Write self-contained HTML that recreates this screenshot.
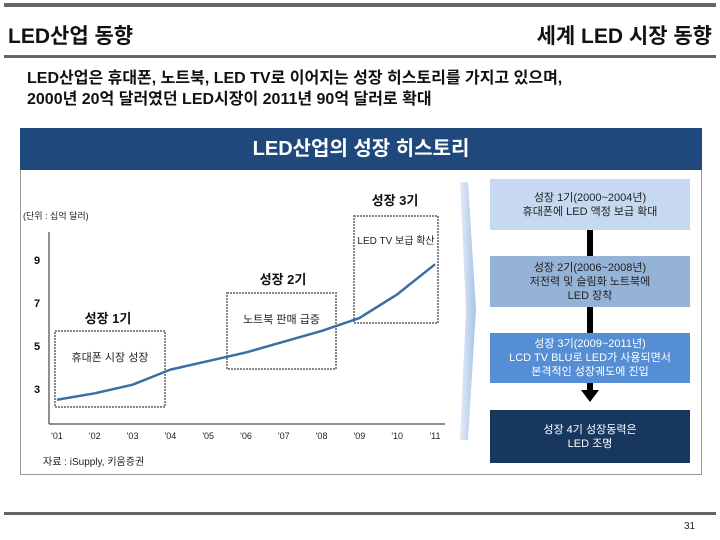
<!DOCTYPE html>
<html><head><meta charset="utf-8">
<style>
body{margin:0;width:720px;height:540px;background:#fff;position:relative;overflow:hidden;font-family:"Liberation Sans","Noto Sans CJK KR",sans-serif;}
.abs{position:absolute;}
.rbox{position:absolute;left:490px;width:200px;display:flex;align-items:center;justify-content:center;text-align:center;font-size:11px;line-height:14px;}
</style></head><body>
<div class="abs" style="left:4px;top:3px;width:712px;height:4px;background:#666"></div>
<div class="abs" style="left:8px;top:20px;font-size:21px;font-weight:bold;color:#111">LED산업 동향</div>
<div class="abs" style="right:8px;top:20px;font-size:21px;font-weight:bold;color:#111">세계 LED 시장 동향</div>
<div class="abs" style="left:4px;top:55px;width:712px;height:3px;background:#666"></div>
<div class="abs" style="left:27px;top:68px;font-size:16px;line-height:21px;font-weight:bold;color:#111">LED산업은 휴대폰, 노트북, LED TV로 이어지는 성장 히스토리를 가지고 있으며,<br>2000년 20억 달러였던 LED시장이 2011년 90억 달러로 확대</div>
<div class="abs" style="left:20px;top:128px;width:680px;height:346px;border:1px solid #999;border-top:none"></div>
<div class="abs" style="left:20px;top:128px;width:682px;height:42px;background:#1f497d;color:#fff;font-size:20px;font-weight:bold;text-align:center;line-height:42px">LED산업의 성장 히스토리</div>

<svg class="abs" style="left:0;top:0" width="720" height="540">
<defs><linearGradient id="chev" x1="0" x2="1"><stop offset="0" stop-color="#e4ecf6"/><stop offset="1" stop-color="#a7c3e6"/></linearGradient></defs>
<polygon points="460,182 468,182 476,310 468,440 460,440 466,310" fill="url(#chev)"/>
<g id="chart"></g>
</svg>

<div class="rbox" style="top:179px;height:51px;background:#c6d9f1;color:#222">성장 1기(2000~2004년)<br>휴대폰에 LED 액정 보급 확대</div>
<div class="abs" style="left:587px;top:230px;width:6px;height:26px;background:#000"></div>
<div class="rbox" style="top:256px;height:51px;background:#95b3d7;color:#222">성장 2기(2006~2008년)<br>저전력 및 슬림화 노트북에<br>LED 장착</div>
<div class="abs" style="left:587px;top:307px;width:6px;height:26px;background:#000"></div>
<div class="rbox" style="top:333px;height:50px;background:#558ed5;color:#fff">성장 3기(2009~2011년)<br>LCD TV BLU로 LED가 사용되면서<br>본격적인 성장궤도에 진입</div>
<div class="abs" style="left:587px;top:383px;width:6px;height:8px;background:#000"></div>
<div class="abs" style="left:581px;top:390px;width:0;height:0;border-left:9px solid transparent;border-right:9px solid transparent;border-top:12px solid #000"></div>
<div class="rbox" style="top:410px;height:53px;background:#17375e;color:#fff">성장 4기 성장동력은<br>LED 조명</div>

<div class="abs" style="left:43px;top:453px;font-size:10px;color:#222">자료 : iSupply, 키움증권</div>
<div class="abs" style="left:4px;top:512px;width:712px;height:3px;background:#666"></div>
<div class="abs" style="left:684px;top:521px;font-size:10px;color:#222">31</div>

<script>
const years=["'01","'02","'03","'04","'05","'06","'07","'08","'09","'10","'11"];
const values=[2.5,2.8,3.2,3.9,4.3,4.7,5.2,5.7,6.3,7.4,8.8];
const yTicks=[3,5,7,9];
const NS="http://www.w3.org/2000/svg";
const g=document.getElementById('chart');
const x0=57,dx=37.8;
function xs(i){return x0+i*dx;}
function ys(v){return 389-(v-3)*21.5;}
function mk(tag,attrs,txt){const e=document.createElementNS(NS,tag);for(const k in attrs)e.setAttribute(k,attrs[k]);if(txt!==undefined)e.textContent=txt;g.appendChild(e);return e;}
let e=mk('line',{x1:49,y1:232,x2:49,y2:424,stroke:'#222','stroke-width':1});


e=mk('line',{x1:49,y1:424,x2:445,y2:424,stroke:'#222','stroke-width':1});


yTicks.forEach(t=>{const el=mk('text',{x:37,y:ys(t)+4,'font-size':11,'font-weight':'bold','text-anchor':'middle',fill:'#111'},t);

});
years.forEach((y,i)=>{const el=mk('text',{x:xs(i),y:439,'font-size':9,'text-anchor':'middle',fill:'#222'},y);

});
e=mk('text',{x:23,y:219,'font-size':9,fill:'#222'},'(단위 : 십억 달러)');


const boxes=[[55,331,110,76,'휴대폰 시장 성장',108,323,'성장 1기'],[227,293,109,76,'노트북 판매 급증',283,284,'성장 2기'],[354,216,84,107,'LED TV 보급 확산',395,205,'성장 3기']];
boxes.forEach((b,i)=>{
 const r=mk('rect',{x:b[0],y:b[1],width:b[2],height:b[3],fill:'none',stroke:'#888','stroke-width':2,'stroke-dasharray':'2,1'});
 
 
 const t=mk('text',{x:b[0]+b[2]/2,y:b[1]+(i==2?28:30),'font-size':i==2?10:11,'text-anchor':'middle',fill:'#222'},b[4]);
 
 
 const h=mk('text',{x:b[5],y:b[6],'font-size':13,'font-weight':'bold','text-anchor':'middle',fill:'#111'},b[7]);
 
 
});
const pts=values.map((v,i)=>xs(i)+','+ys(v)).join(' ');
e=mk('polyline',{points:pts,fill:'none',stroke:'#3a6ea5','stroke-width':2.5,'stroke-linejoin':'round'});


</script>
</body></html>
